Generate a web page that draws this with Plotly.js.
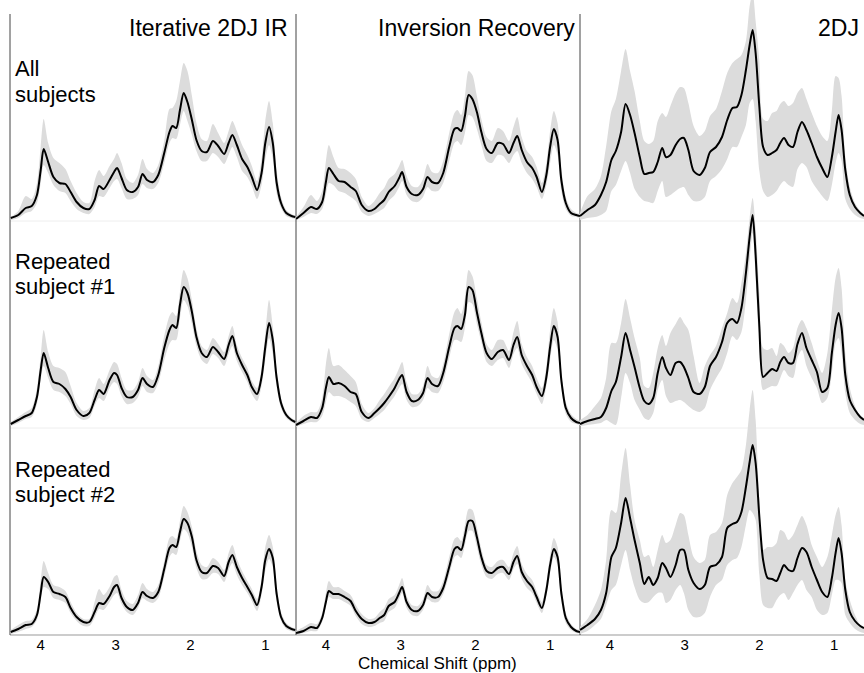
<!DOCTYPE html>
<html>
<head>
<meta charset="utf-8">
<script src="https://cdn.plot.ly/plotly-3.0.1.min.js"></script>
<style>
  html, body { margin: 0; padding: 0; background: #ffffff; }
  #chart { width: 864px; height: 673px; }
</style>
</head>
<body>
<div id="chart"></div>
<script>
// ---------------- DATA ----------------
const colTitles = ["Iterative 2DJ IR", "Inversion Recovery", "2DJ"];
const rowLabels = [["All", "subjects"], ["Repeated", "subject #1"], ["Repeated", "subject #2"]];
const xTickVals = [4, 3, 2, 1];
const xTickText = ["4", "3", "2", "1"];
const xAxisTitle = "Chemical Shift (ppm)";

// chemical shift grids (ppm)
const ppmA = [4.40,4.30,4.20,4.12,4.05,4.00,3.96,3.90,3.83,3.75,3.67,3.60,3.52,3.43,3.35,3.28,3.22,3.16,3.08,3.02,2.98,2.92,2.85,2.77,2.70,2.64,2.58,2.50,2.43,2.35,2.28,2.24,2.19,2.14,2.09,2.04,1.98,1.92,1.85,1.78,1.70,1.63,1.55,1.49,1.44,1.38,1.31,1.24,1.18,1.11,1.05,1.00,0.95,0.90,0.85,0.79,0.72,0.65,0.60];
const ppmB = [4.40,4.30,4.20,4.12,4.05,3.98,3.92,3.85,3.79,3.73,3.67,3.60,3.54,3.48,3.42,3.36,3.30,3.25,3.19,3.12,3.06,3.01,2.95,2.88,2.80,2.73,2.66,2.58,2.50,2.43,2.36,2.30,2.24,2.18,2.13,2.09,2.05,2.00,1.95,1.89,1.83,1.77,1.72,1.67,1.61,1.55,1.49,1.43,1.37,1.30,1.23,1.16,1.09,1.03,0.98,0.94,0.90,0.85,0.79,0.72,0.65,0.60];

// Iterative 2DJ IR
const it_all_mean = [3,6,13,15,26,51,72,59,44,38,37,29,19,13,12,21,35,32,41,49,53,43,31,29,34,47,41,39,46,68,89,95,93,111,128,119,101,81,70,69,80,75,67,78,86,76,62,54,44,31,48,78,94,78,39,18,8,5,4];
const it_all_hi   = [4,10,25,22,38,75,102,78,63,58,52,40,28,19,18,40,51,45,55,62,68,58,42,38,46,62,52,48,56,80,112,113,120,140,158,150,125,98,82,80,97,88,78,90,100,90,76,66,55,40,62,100,120,98,52,24,11,7,5];
const it_all_lo   = [1,3,8,10,18,38,56,48,36,30,28,20,12,8,7,14,25,24,33,40,42,33,22,22,26,37,33,32,38,58,78,83,82,96,110,100,86,70,60,60,68,64,57,66,74,64,50,44,35,22,36,62,76,62,28,13,5,3,2];
const it_s1_mean  = [4,8,12,15,31,58,75,60,46,44,39,31,18,12,15,28,38,34,48,55,53,40,31,31,38,50,44,41,53,80,98,103,100,123,141,135,116,91,75,71,81,76,69,83,92,75,63,53,41,34,51,81,105,88,51,25,13,8,6];
const it_s1_hi    = [6,11,16,20,40,72,98,76,62,60,56,42,25,17,20,38,50,44,58,66,64,50,38,38,46,60,52,48,62,92,112,116,112,136,158,150,128,100,82,78,90,84,76,92,102,83,70,60,47,40,60,94,128,102,60,30,16,10,8];
const it_s1_lo    = [2,5,9,11,24,48,62,50,38,36,32,24,12,8,10,22,30,27,40,46,44,32,24,25,31,42,36,35,45,68,84,88,88,110,128,122,104,82,68,64,74,70,62,74,82,67,56,46,34,27,42,68,90,74,42,20,10,6,4];
const it_s2_mean  = [3,6,10,11,20,42,58,53,43,41,38,27,18,13,13,23,32,31,39,48,50,37,28,25,32,43,39,37,43,66,87,90,88,103,116,112,98,75,63,62,69,67,59,73,80,68,57,48,40,30,48,75,86,77,42,18,9,6,5];
const it_s2_hi    = [5,10,14,15,26,55,74,62,50,48,44,33,22,16,16,33,46,40,48,58,60,45,34,31,40,52,46,43,50,74,97,99,96,114,129,123,108,84,70,68,77,73,65,82,90,76,64,54,46,36,56,88,100,88,50,23,12,8,6];
const it_s2_lo    = [1,3,6,8,15,34,48,46,37,35,32,22,14,9,9,17,26,25,33,40,42,31,23,20,27,37,34,32,37,58,78,82,80,94,106,102,88,67,56,56,62,61,53,65,72,60,50,42,34,24,40,64,76,68,34,14,6,4,3];

// Inversion Recovery
const ir_all_mean = [2,8,14,12,19,39,53,47,40,39,34,30,16,10,12,17,21,29,35,43,49,34,27,26,32,44,39,38,48,74,92,93,90,105,126,122,109,89,72,68,78,77,68,78,85,71,59,53,44,29,46,74,92,81,41,18,8,6,5];
const ir_all_hi   = [4,14,26,20,30,60,76,64,53,52,48,42,24,15,20,28,33,42,47,55,61,45,35,34,42,57,49,48,60,88,108,111,106,125,150,146,125,102,84,80,93,90,80,94,104,84,70,64,54,38,58,90,110,98,52,24,12,8,7];
const ir_all_lo   = [1,4,8,7,12,26,38,36,30,28,24,20,9,5,7,10,13,20,26,34,40,26,20,19,24,34,30,30,38,60,78,80,76,88,106,104,92,76,60,58,66,65,58,66,70,58,48,42,34,22,36,58,76,66,30,12,5,4,3];
const ir_s1_mean  = [3,7,11,10,20,40,51,44,45,42,36,34,16,10,15,20,25,31,40,49,53,36,27,28,35,50,44,42,55,81,100,102,99,113,141,138,116,95,75,69,76,78,68,83,91,73,62,53,41,32,51,81,102,91,48,20,10,6,5];
const ir_s1_hi    = [5,12,16,16,30,64,80,62,63,58,52,46,24,15,20,28,34,41,50,60,66,46,34,34,42,62,52,50,64,94,116,120,114,130,158,152,130,106,84,78,88,88,77,96,107,84,71,62,50,40,62,98,120,106,58,26,14,9,7];
const ir_s1_lo    = [1,4,6,6,12,26,36,32,32,30,26,22,9,6,10,14,18,24,32,40,44,28,21,22,28,40,36,35,46,70,88,88,86,100,126,124,104,86,66,62,68,70,60,74,80,64,54,45,34,24,42,68,88,78,40,14,6,4,3];
const ir_s2_mean  = [2,4,8,7,17,33,44,41,41,38,34,24,16,12,13,17,20,29,33,42,48,33,25,24,30,42,38,38,47,68,86,88,85,99,114,114,98,78,64,62,67,68,61,73,79,63,54,48,38,27,45,70,86,78,42,17,8,4,3];
const ir_s2_hi    = [4,8,12,11,22,42,54,48,48,44,40,30,21,16,17,23,27,36,40,50,57,39,30,29,36,50,44,44,54,78,96,98,94,110,126,125,108,86,70,68,74,75,68,82,89,71,61,55,44,33,52,80,97,88,50,22,11,6,5];
const ir_s2_lo    = [1,2,4,4,13,28,38,36,36,33,29,19,11,8,9,12,14,23,27,36,42,27,20,19,25,36,33,33,41,60,78,80,77,90,104,104,88,70,58,56,61,62,55,66,71,56,47,42,32,22,39,62,78,70,34,12,5,2,2];

// 2DJ
const dj_all_mean = [5,11,16,26,39,61,70,89,117,106,88,64,47,48,49,59,73,64,66,76,82,83,71,50,46,53,69,74,84,101,113,114,126,151,176,191,168,114,74,66,68,71,78,83,76,74,89,99,91,78,64,53,44,64,89,106,91,51,26,14,8,5];
const dj_all_hi   = [8,25,32,45,75,110,122,150,172,150,130,100,80,77,80,100,108,104,115,128,134,133,118,95,85,90,105,112,130,148,158,162,166,180,215,228,200,160,102,100,108,110,117,120,115,118,128,133,122,108,95,85,80,110,145,143,125,65,34,18,10,6];
const dj_all_lo   = [1,3,4,6,10,30,36,50,60,48,32,24,20,19,18,30,40,24,26,30,33,34,26,20,20,24,40,45,52,62,74,74,84,96,118,122,100,50,30,24,26,30,36,40,36,34,52,58,54,40,32,25,20,36,58,68,60,22,12,6,3,2];
const dj_s1_mean  = [4,7,9,11,20,37,46,71,95,78,61,40,27,24,30,55,71,60,53,65,66,61,50,36,34,41,62,71,86,105,109,105,120,155,191,213,173,101,51,55,59,57,66,71,65,65,84,95,80,68,56,36,40,75,103,115,100,53,28,18,11,8];
const dj_s1_hi    = [8,13,22,30,50,85,85,105,129,110,90,70,42,40,55,80,93,82,95,104,111,105,98,72,45,62,73,82,100,115,130,125,145,175,210,230,200,135,80,78,80,72,85,82,75,80,100,108,100,85,68,55,75,118,150,160,140,75,40,22,12,10];
const dj_s1_lo    = [2,3,4,5,8,5,3,30,55,45,28,18,10,8,15,38,48,32,25,27,28,26,22,18,16,20,38,50,60,75,92,88,96,128,168,195,150,80,38,40,42,42,50,58,52,50,70,78,62,50,40,25,30,55,85,90,75,35,15,8,4,3];
const dj_s2_mean  = [5,10,16,25,42,78,87,112,137,117,95,72,51,58,50,57,72,67,58,70,85,85,65,52,46,50,68,70,78,107,111,113,123,148,173,190,172,118,75,57,56,54,62,70,65,64,77,87,83,68,55,43,38,57,82,97,82,45,23,14,9,7];
const dj_s2_hi    = [8,16,30,45,75,125,122,160,187,150,115,95,78,80,68,85,100,92,95,110,122,120,100,78,72,75,100,103,112,140,152,158,165,190,225,245,215,135,85,88,88,92,105,103,95,100,110,119,110,90,78,68,78,100,120,128,110,55,35,20,10,7];
const dj_s2_lo    = [1,4,10,16,30,45,50,70,85,65,48,35,32,33,38,42,42,32,35,45,50,42,25,18,18,22,38,50,55,70,75,77,88,110,125,122,115,60,30,27,27,35,40,42,35,42,50,55,45,38,25,20,22,40,55,55,52,20,12,6,3,2];

// panel table built from the arrays above: [row][col]
const panels = [
  [ {x: ppmA, m: it_all_mean, hi: it_all_hi, lo: it_all_lo},
    {x: ppmA, m: ir_all_mean, hi: ir_all_hi, lo: ir_all_lo},
    {x: ppmB, m: dj_all_mean, hi: dj_all_hi, lo: dj_all_lo} ],
  [ {x: ppmA, m: it_s1_mean, hi: it_s1_hi, lo: it_s1_lo},
    {x: ppmA, m: ir_s1_mean, hi: ir_s1_hi, lo: ir_s1_lo},
    {x: ppmB, m: dj_s1_mean, hi: dj_s1_hi, lo: dj_s1_lo} ],
  [ {x: ppmA, m: it_s2_mean, hi: it_s2_hi, lo: it_s2_lo},
    {x: ppmA, m: ir_s2_mean, hi: ir_s2_hi, lo: ir_s2_lo},
    {x: ppmB, m: dj_s2_mean, hi: dj_s2_hi, lo: dj_s2_lo} ]
];

// ---------------- LAYOUT GEOMETRY ----------------
const W = 864, H = 673;
const ML = 10, MR = 0, MT = 0, MB = 38;
const PW = W - ML - MR, PH = H - MT - MB;      // plot area size in px
const colEdges = [10, 296, 580, 864];           // px
const rowBottoms = [221, 428, 635];             // px from top
const panelTop = 14;                            // px
const xRanges = [[4.41, 0.59], [4.4, 0.6], [4.4, 0.6]];
const FONT = "Liberation Sans, Arial, Helvetica, sans-serif";
const bandColor = "#dcdcdc";

const px2paperX = px => (px - ML) / PW;
const px2paperY = py => (PH + MT - py) / PH;

const traces = [];
const layout = {
  width: W, height: H,
  margin: {l: ML, r: MR, t: MT, b: MB, pad: 0},
  paper_bgcolor: "#ffffff",
  plot_bgcolor: "rgba(0,0,0,0)",
  showlegend: false,
  font: {family: FONT, color: "#000000"},
  shapes: [],
  annotations: []
};

for (let r = 0; r < 3; r++) {
  for (let c = 0; c < 3; c++) {
    const idx = r * 3 + c + 1;
    const xa = "x" + idx, ya = "y" + idx;
    const p = panels[r][c];
    const yLo = px2paperY(rowBottoms[r]);
    layout["xaxis" + idx] = {
      domain: [px2paperX(colEdges[c]), px2paperX(colEdges[c + 1])],
      range: xRanges[c],
      anchor: ya,
      showgrid: false, zeroline: false, showline: false,
      ticks: "",
      ticklabelstandoff: -1,
      showticklabels: r === 2,
      tickvals: xTickVals, ticktext: xTickText,
      tickfont: {family: FONT, size: 15, color: "#000"},
      fixedrange: true
    };
    layout["yaxis" + idx] = {
      domain: [yLo, 1],
      range: [0, rowBottoms[r] - MT],
      anchor: xa,
      showgrid: false, zeroline: false, showline: false,
      showticklabels: false, ticks: "",
      fixedrange: true
    };
    traces.push({
      x: p.x, y: p.lo, xaxis: xa, yaxis: ya, type: "scatter", mode: "lines",
      line: {width: 0, color: bandColor, shape: "spline", smoothing: 0.8},
      hoverinfo: "skip"
    });
    traces.push({
      x: p.x, y: p.hi, xaxis: xa, yaxis: ya, type: "scatter", mode: "lines",
      line: {width: 0, color: bandColor, shape: "spline", smoothing: 0.8},
      fill: "tonexty", fillcolor: bandColor,
      hoverinfo: "skip"
    });
    traces.push({
      x: p.x, y: p.m, xaxis: xa, yaxis: ya, type: "scatter", mode: "lines",
      line: {width: 2, color: "#000000", shape: "spline", smoothing: 0.8},
      hoverinfo: "skip"
    });
  }
}

// separator lines
for (let r = 0; r < 2; r++) {
  layout.shapes.push({type: "line", xref: "paper", yref: "paper", layer: "below",
    x0: 0, x1: 1, y0: px2paperY(rowBottoms[r]), y1: px2paperY(rowBottoms[r]),
    line: {color: "#eeeeee", width: 1}});
}
layout.shapes.push({type: "line", xref: "paper", yref: "paper", layer: "below",
  x0: 0, x1: 1, y0: 0, y1: 0, line: {color: "#999999", width: 1}});
for (let c = 0; c < 3; c++) {
  layout.shapes.push({type: "line", xref: "paper", yref: "paper", layer: "below",
    x0: px2paperX(colEdges[c]), x1: px2paperX(colEdges[c]),
    y0: 0, y1: px2paperY(panelTop), line: {color: "#444444", width: 1}});
}

// column titles
const titleRight = [290, 577, 861];
for (let c = 0; c < 3; c++) {
  layout.annotations.push({text: colTitles[c], xref: "paper", yref: "paper",
    x: px2paperX(titleRight[c]), y: px2paperY(28), xanchor: "right", yanchor: "middle",
    showarrow: false, font: {family: FONT, size: 23, color: "#000"}});
}
// row labels
const rowLabelY = [[69, 95], [261, 287], [469, 495]];
for (let r = 0; r < 3; r++) {
  for (let k = 0; k < 2; k++) {
    layout.annotations.push({text: rowLabels[r][k], xref: "paper", yref: "paper",
      x: px2paperX(13), y: px2paperY(rowLabelY[r][k]), xanchor: "left", yanchor: "middle",
      showarrow: false, font: {family: FONT, size: 22, color: "#000"}});
  }
}
// x axis title
layout.annotations.push({text: xAxisTitle, xref: "paper", yref: "paper",
  x: px2paperX(437), y: px2paperY(663.5), xanchor: "center", yanchor: "middle",
  showarrow: false, font: {family: FONT, size: 17, color: "#000"}});

Plotly.newPlot("chart", traces, layout, {staticPlot: true, displayModeBar: false});
</script>
</body>
</html>
